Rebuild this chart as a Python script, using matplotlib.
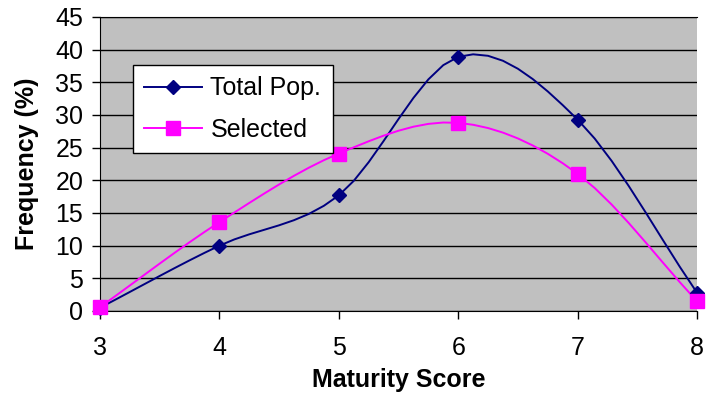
import numpy as np
import matplotlib
matplotlib.use("Agg")
import matplotlib.pyplot as plt
from matplotlib.lines import Line2D

plt.rcParams['font.family'] = ['Liberation Sans', 'DejaVu Sans']

scores = [3, 4, 5, 6, 7, 8]
total_pop = [0.5, 10.0, 17.7, 38.9, 29.3, 2.8]
selected = [0.6, 13.6, 24.1, 28.8, 21.0, 1.5]
y_ticks = [0, 5, 10, 15, 20, 25, 30, 35, 40, 45]


def smooth(xs, ys, n=8):
    """Catmull-Rom curve through the points (Excel-style smoothed line)."""
    p = np.column_stack([xs, ys]).astype(float)
    p = np.vstack([2 * p[0] - p[1], p, 2 * p[-1] - p[-2]])
    out = []
    for i in range(1, len(p) - 2):
        p0, p1, p2, p3 = p[i - 1], p[i], p[i + 1], p[i + 2]
        m1 = (p2 - p0) / 2.0
        m2 = (p3 - p1) / 2.0
        for t in np.linspace(0, 1, n, endpoint=(i == len(p) - 3)):
            h00 = 2 * t**3 - 3 * t**2 + 1
            h10 = t**3 - 2 * t**2 + t
            h01 = -2 * t**3 + 3 * t**2
            h11 = t**3 - t**2
            out.append(h00 * p1 + h10 * m1 + h01 * p2 + h11 * m2)
    out = np.array(out)
    return out[:, 0], out[:, 1]


fig = plt.figure(figsize=(7.06, 3.95), dpi=100)
ax = fig.add_axes([100 / 706, 1 - 311 / 395, 597 / 706, 294 / 395])
ax.set_facecolor('#C0C0C0')

navy = '#000080'
magenta = '#FF00FF'

sx, sy = smooth(scores, total_pop)
ax.plot(sx, sy, color=navy, lw=1.4, zorder=3, clip_on=False)
ax.plot(scores, total_pop, ls='none', marker='D', ms=7.5, color=navy, zorder=4, clip_on=False)

sx, sy = smooth(scores, selected)
ax.plot(sx, sy, color=magenta, lw=1.4, zorder=3, clip_on=False)
ax.plot(scores, selected, ls='none', marker='s', ms=9.5, color=magenta, zorder=4, clip_on=False)

ax.set_xlim(3, 8)
ax.set_ylim(0, 45)
ax.set_yticks(y_ticks)
ax.set_xticks(scores)
ax.yaxis.grid(True, color='black', lw=1)
ax.set_axisbelow(True)

ax.spines['top'].set_color('black')
ax.spines['right'].set_visible(False)
ax.spines['left'].set_color('black')
ax.spines['bottom'].set_color('black')

ax.tick_params(axis='both', labelsize=18, length=6, direction='out', color='black', width=1)
ax.tick_params(axis='x', pad=12)
ax.tick_params(axis='y', pad=6)
ax.set_xlabel('Maturity Score', fontsize=18, fontweight='bold', labelpad=6)
ax.set_ylabel('Frequency (%)', fontsize=18, fontweight='bold', labelpad=12)

handles = [
    Line2D([], [], color=navy, lw=1.4, marker='D', ms=7.5),
    Line2D([], [], color=magenta, lw=1.4, marker='s', ms=9.5),
]
leg = ax.legend(handles, ['Total Pop.', 'Selected'], loc='upper left',
                bbox_to_anchor=(33 / 597, 1 - 48 / 294), fontsize=18, frameon=True,
                fancybox=False, edgecolor='black', framealpha=1,
                handlelength=2.3, handletextpad=0.35, borderpad=0.45,
                labelspacing=0.7, borderaxespad=0)
leg.get_frame().set_linewidth(1)

fig.savefig('out.png', dpi=100)
